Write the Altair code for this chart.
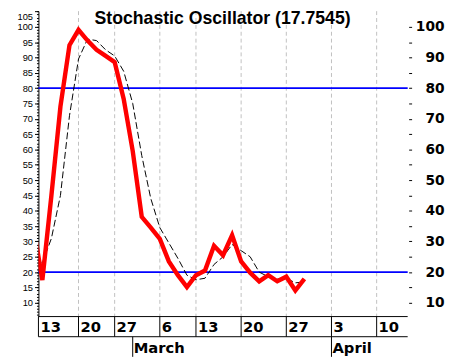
import altair as alt
import pandas as pd

# ---- data ----
days = list(range(-1, 30))
k_values = [35, 17.4, 45, 74, 94, 99, 95.5, 92.5, 90.5, 88.5, 76.5, 59.5, 38, 34.5,
            30.8, 23.5, 19, 15.1, 19, 20.5, 28.6, 25.5, 32, 23.5, 19.8, 17, 19, 17,
            18.5, 14, 17.8]
d_values = [25, 23, 31, 45, 71, 89.5, 96, 95.5, 92.5, 90.5, 85.5, 75, 58, 44, 34.5,
            29.5, 24.5, 19, 17.5, 18, 22.5, 25, 29, 27, 25, 20, 18.5, 17.7, 18, 16.5,
            16.8]

week_pos = [-0.435, 4, 8, 13, 17, 22, 27, 32, 37]
week_labels = ["13", "20", "27", "6", "13", "20", "27", "3", "10"]
month_pos = [10, 32]
month_labels = ["March", "April"]
levels = [80, 20]
left_ticks = list(range(10, 106, 5))
minor_ticks = list(range(6, 106))
right_ticks = list(range(10, 101, 5))
title_text = "Stochastic Oscillator (17.7545)"

W, H = 376, 311
ROW = 20.5

xscale = alt.Scale(domain=[-0.435, 40.435], nice=False, zero=False)
yscale = alt.Scale(domain=[5.5, 105.1], nice=False, zero=False)

df = pd.DataFrame({"day": days, "k": k_values, "d": d_values})
weeks = pd.DataFrame({"pos": week_pos, "label": week_labels})
grid_df = weeks.iloc[1:]
months = pd.DataFrame({"pos": month_pos, "label": month_labels})
lv = pd.DataFrame({"level": levels})

grid = alt.Chart(grid_df).mark_rule(color="#c0c0c0", strokeDash=[4, 3], strokeWidth=1).encode(
    x=alt.X("pos:Q", scale=xscale, axis=None),
    y=alt.value(0), y2=alt.value(H))

right_axis = alt.Axis(orient="right", values=right_ticks,
                      labelExpr="datum.value % 10 == 0 ? datum.label : ''",
                      labelFont="DejaVu Sans", labelFontWeight="bold", labelFontSize=14,
                      labelColor="black", labelAlign="right", labelPadding=33,
                      tickSize=3, tickColor="black", offset=1, domain=False, grid=False,
                      title=None, labelOverlap=False, labelFlush=False)

blue = alt.Chart(lv).mark_rule(color="#0000ff", strokeWidth=2).encode(
    y=alt.Y("level:Q", scale=yscale, axis=right_axis),
    x=alt.value(0), x2=alt.value(W))

minor_axis = alt.Axis(orient="left", values=minor_ticks, labels=False, domain=False,
                      tickSize=2, tickColor="black", grid=False, title=None)

black = alt.Chart(df).mark_line(color="black", strokeWidth=1, strokeDash=[7, 3], clip=True).encode(
    x=alt.X("day:Q", scale=xscale, axis=None),
    y=alt.Y("d:Q", scale=yscale, axis=minor_axis))

left_axis = alt.Axis(orient="left", values=left_ticks, labelFont="Liberation Sans",
                     labelFontSize=9.5, labelColor="black", tickColor="black",
                     domainColor="black", tickSize=4, labelPadding=2, grid=False,
                     title=None, labelOverlap=False, labelFlush=1)

red = alt.Chart(df).mark_line(color="#ff0000", strokeWidth=4.5, clip=True).encode(
    x=alt.X("day:Q", scale=xscale, axis=None),
    y=alt.Y("k:Q", scale=yscale, axis=left_axis))

title = alt.Chart(pd.DataFrame({"t": [title_text]})).mark_text(
    font="Liberation Sans", fontWeight="bold", fontSize=18, color="black",
    align="center", baseline="alphabetic").encode(
    text="t:N", x=alt.value(187.5), y=alt.value(12.7))

bottom_line = alt.Chart(pd.DataFrame({"r": [0]})).mark_rule(color="black", strokeWidth=1).encode(
    x=alt.value(0), x2=alt.value(W), y=alt.value(H))
row_line = alt.Chart(pd.DataFrame({"r": [1]})).mark_rule(color="black", strokeWidth=1).encode(
    x=alt.value(0), x2=alt.value(W), y=alt.value(H + ROW))

day_seps = alt.Chart(weeks).mark_rule(color="black", strokeWidth=1).encode(
    x=alt.X("pos:Q", scale=xscale, axis=None),
    y=alt.value(H), y2=alt.value(H + ROW))

day_text = alt.Chart(weeks).mark_text(
    font="DejaVu Sans", fontWeight="bold", fontSize=15, color="black",
    align="left", baseline="alphabetic", dx=2).encode(
    x=alt.X("pos:Q", scale=xscale, axis=None), y=alt.value(H + 16), text="label:N")

month_seps = alt.Chart(months).mark_rule(color="black", strokeWidth=1).encode(
    x=alt.X("pos:Q", scale=xscale, axis=None),
    y=alt.value(H + ROW), y2=alt.value(H + 41))

month_text = alt.Chart(months).mark_text(
    font="DejaVu Sans", fontWeight="bold", fontSize=15, color="black",
    align="left", baseline="alphabetic", dx=1).encode(
    x=alt.X("pos:Q", scale=xscale, axis=None), y=alt.value(H + 37), text="label:N")

chart = alt.layer(
    grid, blue, black, red, title, bottom_line, row_line, day_seps, day_text, month_seps, month_text
).resolve_axis(y="independent").properties(
    width=W, height=H,
    autosize=alt.AutoSizeParams(type="none"),
    padding={"left": 31, "top": 0, "right": 38, "bottom": 41},
    background="white",
).configure_view(stroke=None)

chart.save("out.html", embed_options={"renderer": "svg", "actions": False})
